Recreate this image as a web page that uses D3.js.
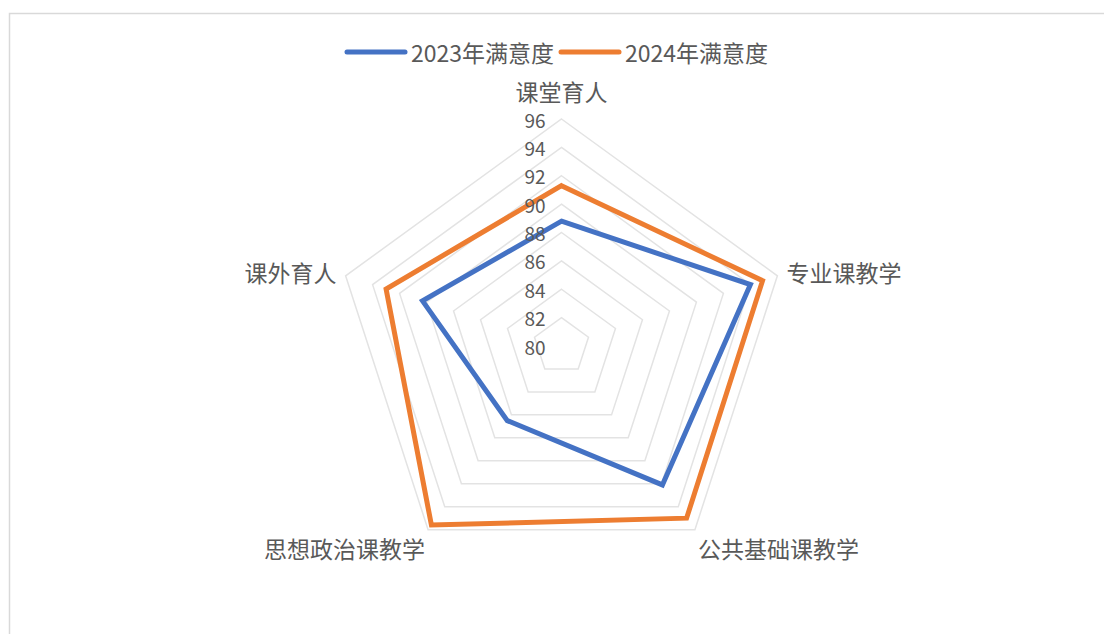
<!DOCTYPE html>
<html>
<head>
<meta charset="utf-8">
<script src="https://cdn.jsdelivr.net/npm/d3@7"></script>
<style>
  html, body { margin: 0; padding: 0; background: #fff; }
  svg { display: block; font-family: "Noto Sans CJK SC", "Noto Sans", sans-serif; }
</style>
</head>
<body>
<script>
// Catégories (axes du radar)
const categories = ['课堂育人', '专业课教学', '公共基础课教学', '思想政治课教学', '课外育人']
// Séries
const seriesNames = ['2023年满意度', '2024年满意度']
const values2023 = [88.8, 94.0, 92.1, 86.5, 90.3]
const values2024 = [91.3, 94.9, 95.0, 95.6, 93.0]
// Graduations
const ticks = [80, 82, 84, 86, 88, 90, 92, 94, 96]

const colors = ['#4472C4', '#ED7D31']
const series = [values2023, values2024]

const width = 1104, height = 634
const cx = 561.5, cy = 346, R = 227

const svg = d3.select('body').append('svg')
    .attr('width', width)
    .attr('height', height)

// cadre du graphique
svg.append('rect')
    .attr('x', 9.5).attr('y', 13.5)
    .attr('width', 1200).attr('height', 700)
    .attr('fill', 'none')
    .attr('stroke', '#d9d9d9')
    .attr('stroke-width', 1.5)

// échelle radiale
const r = d3.scaleLinear()
    .domain([ticks[0], ticks[ticks.length - 1]])
    .range([0, R])

const angle = d3.scaleLinear()
    .domain([0, categories.length])
    .range([0, 2 * Math.PI])

function point(i, v) {
    const a = angle(i)
    return [cx + r(v) * Math.sin(a), cy - r(v) * Math.cos(a)]
}

/* ---------------- GRILLE ---------------- */
svg.append('g')
    .selectAll('path')
    .data(ticks.slice(1))
    .join('path')
    .attr('d', t => d3.line()(categories.map((c, i) => point(i, t))) + 'Z')
    .attr('fill', 'none')
    .attr('stroke', '#e3e3e3')
    .attr('stroke-width', 1.5)

/* ---------------- SERIES ---------------- */
svg.append('g')
    .selectAll('path')
    .data(series)
    .join('path')
    .attr('d', s => d3.line()(s.map((v, i) => point(i, v))) + 'Z')
    .attr('fill', 'none')
    .attr('stroke', (d, i) => colors[i])
    .attr('stroke-width', 5)
    .attr('stroke-linejoin', 'miter')

/* ---------------- GRADUATIONS ---------------- */
svg.append('g')
    .selectAll('text')
    .data(ticks)
    .join('text')
    .attr('x', cx - 16)
    .attr('y', t => cy - r(t))
    .attr('text-anchor', 'end')
    .attr('dominant-baseline', 'central')
    .attr('font-size', 19)
    .attr('fill', '#595959')
    .text(t => t)

/* ---------------- LIBELLES ---------------- */
svg.append('g')
    .selectAll('text')
    .data(categories)
    .join('text')
    .each(function (c, i) {
        const [x, y] = point(i, ticks[ticks.length - 1])
        const s = Math.sin(angle(i)), co = Math.cos(angle(i))
        const t = d3.select(this)
        if (Math.abs(s) < 0.01) {
            t.attr('x', x).attr('y', y - 28).attr('text-anchor', 'middle')
        } else {
            const sign = s > 0 ? 1 : -1
            t.attr('x', x + sign * (co > 0 ? 9 : 3))
             .attr('y', y + (co > 0 ? -4 : 18))
             .attr('text-anchor', s > 0 ? 'start' : 'end')
        }
    })
    .attr('dominant-baseline', 'central')
    .attr('font-size', 23)
    .attr('fill', '#595959')
    .text(c => c)

/* ---------------- LEGENDE ---------------- */
const legend = svg.append('g')
const legendX = [347, 561]
seriesNames.forEach((name, i) => {
    const g = legend.append('g').attr('transform', 'translate(' + legendX[i] + ',52)')
    g.append('line')
        .attr('x1', 0).attr('x2', 58)
        .attr('stroke', colors[i])
        .attr('stroke-width', 5)
        .attr('stroke-linecap', 'round')
    g.append('text')
        .attr('x', 64)
        .attr('dominant-baseline', 'central')
        .attr('font-size', 23)
        .attr('fill', '#595959')
        .text(name)
})
</script>
</body>
</html>
